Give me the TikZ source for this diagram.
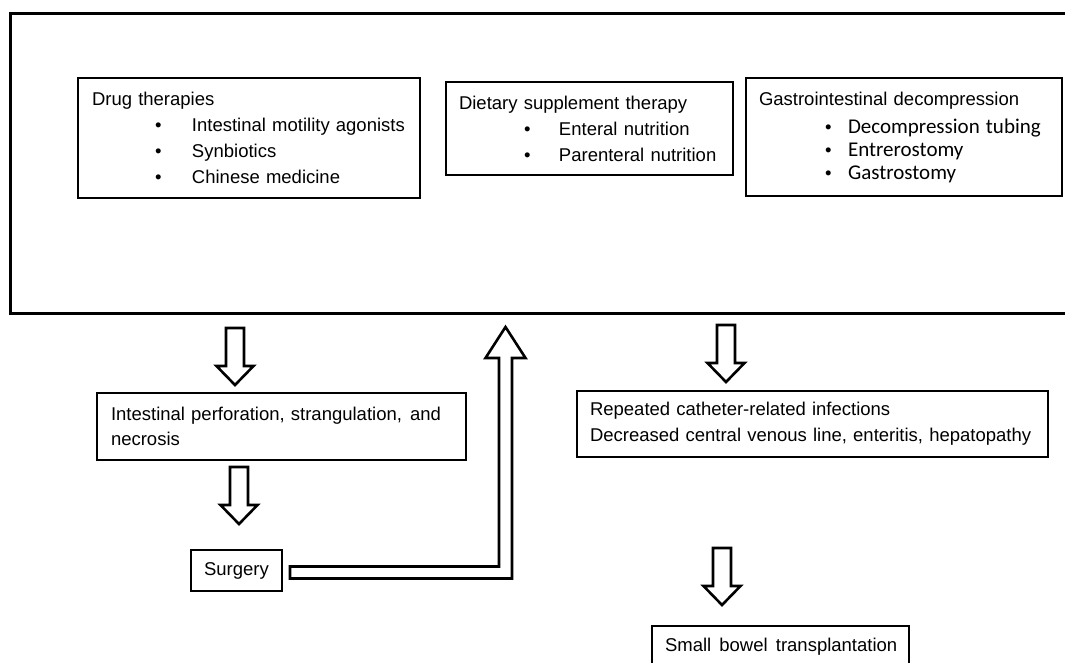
\documentclass[tikz,border=0pt]{standalone}
\usepackage{fontspec}
\setmainfont{Liberation Sans}
\newfontfamily\calib{Carlito}
\usepackage{tikz}
\usetikzlibrary{calc}

\newcommand\blt[3]{\hspace*{#1}\makebox[#2][l]{\textbullet}#3}
\newcommand\calitem[1]{\blt{66pt}{23pt}{{\calib\fontsize{21}{23}\selectfont #1}}}
\newcommand\downblock[2]{%
  \draw[blockline] let \p1=(#1), \p2=(#2) in
    (\x2-9pt,\y1) -- (\x2+9pt,\y1) -- (\x2+9pt,\y2+19pt) -- (\x2+18.5pt,\y2+19pt)
    -- (\x2,\y2) -- (\x2-18.5pt,\y2+19pt) -- (\x2-9pt,\y2+19pt) -- cycle;}

\tikzset{
  box/.style={draw,line width=1.2pt,anchor=north west,outer sep=0pt,align=left,inner ysep=0pt},
  blockline/.style={line width=2.6pt,line join=miter,draw,fill=white},
}

\begin{document}
\begin{tikzpicture}[x=1pt,y=-1pt,font=\fontsize{18.5}{26}\selectfont]
\useasboundingbox (0,0) rectangle (1065,662);
\clip (0,0) rectangle (1065,662);

\node[draw,line width=3pt,anchor=north west,outer sep=0pt,minimum width=1100pt,minimum height=300pt] (frame) at (10,13) {};

\node[box,minimum width=342pt,minimum height=120pt,text width=314pt,inner xsep=14pt] (drug) at (78,78)
  {Drug therapies\\
   \blt{63pt}{37pt}{Intestinal motility agonists}\\
   \blt{63pt}{37pt}{Synbiotics}\\
   \blt{63pt}{37pt}{Chinese medicine}};
\node[box,minimum width=287pt,minimum height=93pt,text width=261pt,inner xsep=13pt] (diet) at (446,82)
  {Dietary supplement therapy\\
   \blt{65pt}{35pt}{Enteral nutrition}\\
   \blt{65pt}{35pt}{Parenteral nutrition}};
\node[box,minimum width=316pt,minimum height=118pt,text width=290pt,inner xsep=13pt,
      font=\fontsize{18.5}{23}\selectfont] (gastro) at (746,78)
  {Gastrointestinal decompression\\[5pt]
   \calitem{Decompression tubing}\\
   \calitem{Entrerostomy}\\
   \calitem{Gastrostomy}};

\node[box,minimum width=369pt,minimum height=67pt,text width=341pt,inner xsep=14pt,
      font=\fontsize{18.5}{25}\selectfont] (perf) at (97,393)
  {\mbox{Intestinal perforation, strangulation,\hspace{2pt} and}\\ necrosis};
\node[box,minimum width=471pt,minimum height=66pt,text width=445pt,inner xsep=13pt] (cath) at (577,391)
  {\mbox{Repeated catheter-related infections}\\
   \mbox{Decreased central venous line, enteritis, hepatopathy}};
\node[box,minimum width=91pt,minimum height=41pt,align=center,inner xsep=0pt] (surg) at (191,550) {Surgery};
\node[box,minimum width=257pt,minimum height=42pt,text width=231pt,inner xsep=13pt] (bowel) at (652,626)
  {\mbox{Small\hspace{2pt} bowel\hspace{2pt} transplantation}};

\coordinate (a1s) at (235,328);
\coordinate (a1t) at (235,385);
\coordinate (a2s) at (239,467);
\coordinate (a2t) at (239,524);
\coordinate (a3s) at (726,325);
\coordinate (a3t) at (726,382);
\coordinate (a4s) at (722,548);
\coordinate (a4t) at (722,605);
\downblock{a1s}{a1t}
\downblock{a2s}{a2t}
\downblock{a3s}{a3t}
\downblock{a4s}{a4t}

\coordinate (bs) at ($(surg.east)+(8,2)$);
\coordinate (bt) at (505.5,327);
\draw[blockline] let \p1=(bs), \p2=(bt) in
  (\x1,\y1+6pt) -- (\x2-6.5pt,\y1+6pt) -- (\x2-6.5pt,\y2-31pt) -- (\x2-20pt,\y2-31pt)
  -- (\x2,\y2) -- (\x2+20pt,\y2-31pt) -- (\x2+6.5pt,\y2-31pt) -- (\x2+6.5pt,\y1-6pt)
  -- (\x1,\y1-6pt) -- cycle;
\end{tikzpicture}
\end{document}
